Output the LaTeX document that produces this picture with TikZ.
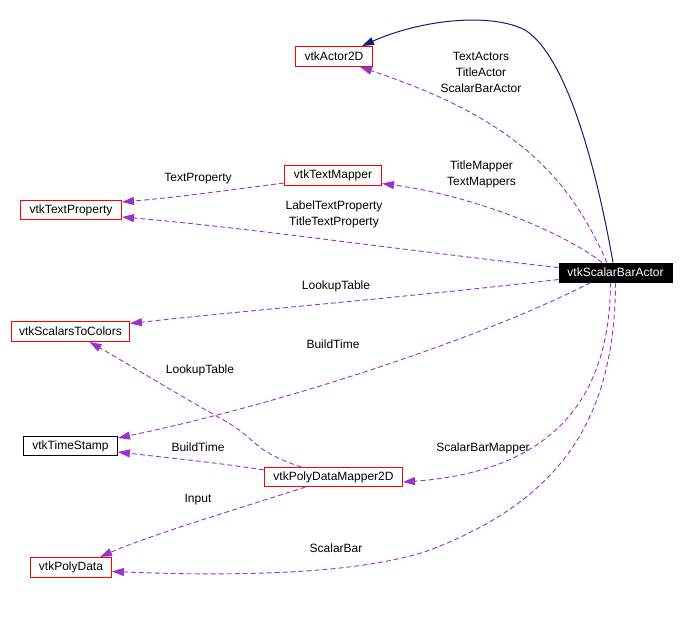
\documentclass[tikz,border=0pt]{standalone}
\usepackage{fontspec}
\setmainfont{Liberation Sans}
\usetikzlibrary{arrows.meta,calc}
\definecolor{usecol}{HTML}{9A32CD}
\definecolor{inhcol}{HTML}{191970}
\begin{document}
\begin{tikzpicture}[x=1pt,y=-1pt,
  cls/.style={draw=red,line width=1pt,inner sep=0pt,minimum height=20pt,font=\fontsize{12}{14}\selectfont},
  clsblack/.style={cls,draw=black},
  clsmain/.style={cls,draw=black,fill=black,text=white},
  lbl/.style={font=\fontsize{12}{16}\selectfont,inner sep=0pt,align=center},
  use/.style={draw=usecol,line width=0.9pt,dash pattern=on 5pt off 3pt,-{Triangle[length=12pt,width=8pt]},fill=none},
  inh/.style={draw=inhcol,line width=1pt,-{Triangle[length=12pt,width=8pt]}}]
\useasboundingbox (0,0) rectangle (685,624);
% nodes
\node[cls,minimum width=77pt] (a2d) at (334,56.5) {vtkActor2D};
\node[cls,minimum width=97pt] (tm) at (333,175.5) {vtkTextMapper};
\node[cls,minimum width=101pt,minimum height=19pt] (tp) at (71,210) {vtkTextProperty};
\node[clsmain,minimum width=113pt,minimum height=19pt] (sba) at (615.5,272.5) {vtkScalarBarActor};
\node[cls,minimum width=118pt] (stc) at (70.5,331.5) {vtkScalarsToColors};
\node[clsblack,minimum width=94pt,minimum height=19pt] (ts) at (70.5,446) {vtkTimeStamp};
\node[cls,minimum width=138pt,minimum height=19pt] (pdm) at (333.5,477) {vtkPolyDataMapper2D};
\node[cls,minimum width=81pt] (pd) at (71,567.5) {vtkPolyData};
% edges
\draw[inh] ($(sba.north)+(-2.5,0)$) .. controls (595,160) and (565,55) .. (525,30) .. controls (490,12) and (420,20) .. ($(a2d.north)+(28,0)$);
\draw[use] ($(sba.north)+(-8.5,0)$) .. controls (570,180) and (520,120) .. ($(a2d.south)+(26,0)$);
\draw[use] ($(sba.north)+(-13.5,0)$) .. controls (560,230) and (470,195) .. ($(tm.east)+(0,8)$);
\draw[use] ($(sba.west)+(0,-5)$) .. controls (400,250) and (250,228) .. ($(tp.east)+(0,7)$);
\draw[use] ($(tm.west)+(0,7.5)$) .. controls (230,190) and (180,197) .. ($(tp.east)+(0,-8)$);
\draw[use] ($(sba.west)+(0,7)$) .. controls (400,298) and (250,310) .. ($(stc.east)+(0,-8)$);
\draw[use] ($(sba.south)+(-25,0)$) .. controls (500,330) and (300,400) .. ($(ts.east)+(0,-8)$);
\draw[use] ($(pdm.north)+(-32,0)$) .. controls (250,450) and (260,440) .. (220,418) .. controls (170,390) and (130,365) .. ($(stc.south)+(19,0)$);
\draw[use] ($(pdm.west)+(0,-7)$) .. controls (220,463) and (170,458) .. ($(ts.east)+(0,6)$);
\draw[use] ($(pdm.south)+(-28,0)$) .. controls (250,505) and (150,535) .. ($(pd.north)+(29,0)$);
\draw[use] ($(sba.south)+(-5,0)$) .. controls (610,380) and (570,470) .. ($(pdm.east)+(0,5)$);
\draw[use] (sba.south) .. controls (615,420) and (560,500) .. (430,550) .. controls (350,578) and (200,575) .. ($(pd.east)+(0,4)$);
% labels
\node[lbl] (l1) at (481,72) {TextActors\\TitleActor\\ScalarBarActor};
\node[lbl] (l2) at (198,179) {TextProperty};
\node[lbl] (l3) at (481.5,174.5) {TitleMapper\\TextMappers};
\node[lbl] (l4) at (334,214.5) {LabelTextProperty\\TitleTextProperty};
\node[lbl] (l5) at (336,286) {LookupTable};
\node[lbl] (l6) at (333,344) {BuildTime};
\node[lbl] (l7) at (200,370) {LookupTable};
\node[lbl] (l8) at (198,447) {BuildTime};
\node[lbl] (l9) at (198,500) {Input};
\node[lbl] (l10) at (483,448) {ScalarBarMapper};
\node[lbl] (l11) at (336,548) {ScalarBar};
\end{tikzpicture}
\end{document}
